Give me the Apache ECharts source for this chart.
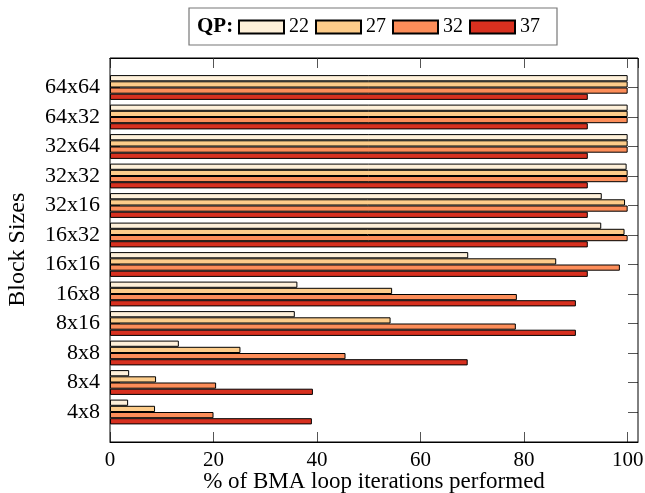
<!DOCTYPE html>
<html><head><meta charset="utf-8">
<script src="https://cdn.jsdelivr.net/npm/echarts@6/dist/echarts.min.js"></script>
<style>html,body{margin:0;padding:0;background:#fff}#c{width:645px;height:493px}</style>
</head><body><div id="c"></div>
<script>
const categories = ['64x64','64x32','32x64','32x32','32x16','16x32','16x16','16x8','8x16','8x8','8x4','4x8'];
const seriesNames = ['22','27','32','37'];
const qp22 = [100,100,100,99.8,95.0,94.9,69.2,36.2,35.7,13.3,3.7,3.5];
const qp27 = [100,100,100,100,99.5,99.4,86.2,54.5,54.2,25.2,8.9,8.7];
const qp32 = [100,100,100,100,100,100,98.5,78.6,78.4,45.5,20.5,20.0];
const qp37 = [92.3,92.3,92.3,92.3,92.3,92.3,92.3,90.0,90.0,69.1,39.2,39.0];
const xTicks = [0,20,40,60,80,100];
const colors = ['#FEF0D9','#FDCC8A','#FC8D59','#D7301F'];
const values = [qp22, qp27, qp32, qp37];

const FONT = 'Liberation Serif';
const chart = echarts.init(document.getElementById('c'), null, {renderer:'canvas'});
const xFmt = v => xTicks.indexOf(v) >= 0 ? String(v) : '';
const tickStyle = {color:'#555', width:1};
const frameLine = {show:true, lineStyle:{color:'#000', width:1}};
chart.setOption({
  animation:false,
  backgroundColor:'#fff',
  grid:[
    {left:110, right:7, top:72.75, bottom:66.25, containLabel:false, outerBoundsMode:'none'},
    {left:110, right:7, top:58, bottom:51, show:true, borderColor:'#000', borderWidth:1, backgroundColor:'transparent', z:5, containLabel:false, outerBoundsMode:'none'}
  ],
  legend:{
    data:seriesNames, left:189, top:8, icon:'rect', itemWidth:45, itemHeight:13, itemGap:6,
    padding:[9,17,8,49], borderColor:'#777', borderWidth:1.2,
    textStyle:{fontFamily:FONT, fontSize:20, color:'#000', lineHeight:20}
  },
  graphic:[{type:'text', left:197, top:16, style:{text:'QP:', fontFamily:FONT, fontWeight:'bold', fontSize:21, fill:'#000'}}],
  xAxis:[
    {gridIndex:0, type:'value', min:0, max:102, show:false},
    {gridIndex:1, type:'value', min:0, max:102, interval:20, position:'bottom',
     axisLine:frameLine, splitLine:{show:false},
     axisTick:{inside:true, length:10, lineStyle:tickStyle},
     axisLabel:{formatter:xFmt, showMaxLabel:false, fontFamily:FONT, fontSize:21, color:'#000', margin:8},
     name:'% of BMA loop iterations performed', nameLocation:'middle', nameGap:28, nameMoveOverlap:false,
     nameTextStyle:{fontFamily:FONT, fontSize:23, color:'#000'}},
    {gridIndex:1, type:'value', min:0, max:102, interval:20, position:'top',
     axisLine:frameLine, splitLine:{show:false},
     axisTick:{inside:true, length:10, lineStyle:tickStyle},
     axisLabel:{show:false}}
  ],
  yAxis:[
    {gridIndex:0, type:'category', inverse:true, data:categories,
     axisLine:{show:false}, splitLine:{show:false},
     axisTick:{show:true, inside:true, alignWithLabel:true, length:10, lineStyle:tickStyle},
     axisLabel:{fontFamily:FONT, fontSize:22, color:'#000', margin:10},
     name:'Block Sizes', nameLocation:'middle', nameRotate:90, nameGap:80,
     nameTextStyle:{fontFamily:FONT, fontSize:24, color:'#000'}},
    {gridIndex:0, type:'category', inverse:true, data:categories, position:'right',
     axisLine:{show:false}, splitLine:{show:false},
     axisTick:{show:true, inside:true, alignWithLabel:true, length:10, lineStyle:tickStyle},
     axisLabel:{show:false}},
    {gridIndex:1, type:'value', show:false}
  ],
  series: seriesNames.map((n,i)=>({
    name:n, type:'bar', xAxisIndex:0, yAxisIndex:0, barWidth:6.2, barGap:'0%',
    itemStyle:{color:colors[i], borderColor:'#000', borderWidth:1},
    data:values[i]
  }))
});
</script></body></html>
